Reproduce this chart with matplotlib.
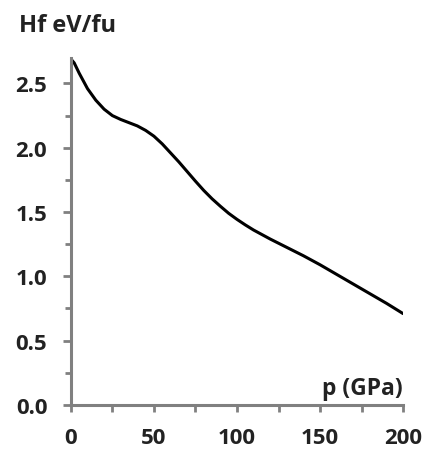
import matplotlib
matplotlib.use("Agg")
import matplotlib.pyplot as plt
from matplotlib.ticker import MultipleLocator

p_gpa = [0, 2, 5, 10, 15, 20, 25, 30, 35, 40, 45, 50, 55, 60, 65, 70, 75, 80, 85, 90, 95, 100, 105, 110, 120, 130, 140, 150, 160, 170, 180, 190, 200]
hf = [2.69, 2.66, 2.58, 2.46, 2.37, 2.30, 2.25, 2.22, 2.195, 2.17, 2.135, 2.09, 2.03, 1.96, 1.89, 1.815, 1.74, 1.668, 1.603, 1.545, 1.49, 1.443, 1.40, 1.36, 1.29, 1.225, 1.16, 1.09, 1.015, 0.94, 0.865, 0.79, 0.71]

xticks = [0, 50, 100, 150, 200]
yticks = [0.0, 0.5, 1.0, 1.5, 2.0, 2.5]

plt.rcParams['font.family'] = ['Open Sans', 'DejaVu Sans']
plt.rcParams['font.weight'] = 'bold'

fig = plt.figure(figsize=(4.27, 4.52), dpi=100)
ax = fig.add_axes([0.166, 0.102, 0.778, 0.768])

ax.plot(p_gpa, hf, color='black', lw=2.2, solid_capstyle='round', solid_joinstyle='round')

ax.set_xlim(0, 200)
ax.set_ylim(0, 2.7)
ax.set_xticks(xticks)
ax.set_yticks(yticks)
ax.set_xticklabels([str(v) for v in xticks])
ax.set_yticklabels([f"{v:.1f}" for v in yticks])
ax.xaxis.set_minor_locator(MultipleLocator(25))
ax.yaxis.set_minor_locator(MultipleLocator(0.25))

for s in ['top', 'right']:
    ax.spines[s].set_visible(False)
for s in ['left', 'bottom']:
    ax.spines[s].set_color('#808080')
    ax.spines[s].set_linewidth(2.2)

ax.tick_params(axis='both', which='both', color='#808080', width=2.0, direction='out')
ax.tick_params(axis='y', which='major', length=6, pad=11, labelsize=16)
ax.tick_params(axis='y', which='minor', length=4)
ax.tick_params(axis='x', which='major', length=5, pad=11, labelsize=16)
ax.tick_params(axis='x', which='minor', length=5)
for lab in ax.get_xticklabels() + ax.get_yticklabels():
    lab.set_fontweight('bold')
    lab.set_color('#222222')

ax.text(200, 0.04, "p (GPa)", ha='right', va='bottom', fontsize=16.5, fontweight='bold', color='#222222')
fig.text(0.045, 0.915, "Hf eV/fu", ha='left', va='bottom', fontsize=17, fontweight='bold', color='#222222')

fig.savefig("out.png", dpi=100)
